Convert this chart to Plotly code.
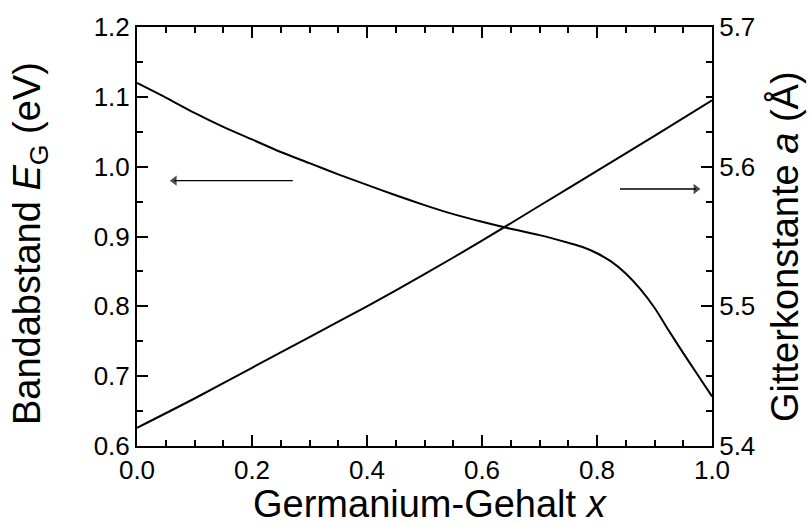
import plotly.graph_objects as go

# Band gap (left axis)
x_eg = [0.0, 0.05, 0.1, 0.15, 0.2, 0.25, 0.3, 0.35, 0.4, 0.45, 0.5, 0.55, 0.6, 0.65, 0.7, 0.75,
        0.775, 0.8, 0.825, 0.85, 0.875, 0.9, 0.925, 0.95, 0.975, 1.0]
eg = [1.120, 1.099, 1.077, 1.057, 1.039, 1.021, 1.005, 0.989, 0.974, 0.959, 0.945, 0.932, 0.921,
      0.911, 0.902, 0.891, 0.885, 0.876, 0.864, 0.847, 0.825, 0.798, 0.765, 0.733, 0.702, 0.671]

# Lattice constant (right axis)
x_a = [0.0, 0.1, 0.2, 0.3, 0.4, 0.5, 0.6, 0.7, 0.8, 0.9, 1.0]
a_const = [5.413, 5.434, 5.456, 5.478, 5.500, 5.523, 5.547, 5.572, 5.597, 5.622, 5.6475]

# Arrows: [tail, head] in data units
arrow_left_x = [0.271, 0.065]
arrow_left_y = [0.98, 0.98]
arrow_right_x = [0.84, 0.972]
arrow_right_y = [5.584, 5.584]

# Axis titles
x_title = "Germanium-Gehalt <i>x</i>"
y_title = "Bandabstand <i>E</i><sub>G</sub> (eV)"
y2_title = "Gitterkonstante <i>a</i> (Å)"

FONT = "Liberation Sans, Arial, sans-serif"

fig = go.Figure()
fig.add_trace(go.Scatter(x=x_eg, y=eg, mode="lines",
                         line=dict(color="black", width=2, shape="spline", smoothing=0.8),
                         showlegend=False))
fig.add_trace(go.Scatter(x=x_a, y=a_const, mode="lines",
                         line=dict(color="black", width=2, shape="spline", smoothing=0.8),
                         yaxis="y2", showlegend=False))
fig.add_trace(go.Scatter(x=arrow_left_x, y=arrow_left_y, mode="lines+markers",
                         line=dict(color="black", width=1.3),
                         marker=dict(symbol=["line-ns", "triangle-left"], size=[1, 9], color="black",
                                     line=dict(width=0)),
                         showlegend=False))
fig.add_trace(go.Scatter(x=arrow_right_x, y=arrow_right_y, mode="lines+markers", yaxis="y2",
                         line=dict(color="black", width=1.3),
                         marker=dict(symbol=["line-ns", "triangle-right"], size=[1, 9], color="black",
                                     line=dict(width=0)),
                         showlegend=False))

tickfont = dict(family=FONT, size=26, color="black")
titlefont = dict(family=FONT, size=38, color="black")

# Axis titles as paper-positioned text
fig.add_annotation(text=x_title, xref="paper", yref="paper", x=0.51, y=-0.139,
                   xanchor="center", yanchor="middle", showarrow=False, font=titlefont)
fig.add_annotation(text=y_title, xref="paper", yref="paper", x=-0.186, y=0.482, textangle=-90,
                   xanchor="center", yanchor="middle", showarrow=False, font=titlefont)
fig.add_annotation(text=y2_title, xref="paper", yref="paper", x=1.127, y=0.475, textangle=-90,
                   xanchor="center", yanchor="middle", showarrow=False, font=titlefont)


def minor(dt):
    return dict(dtick=dt, ticks="inside", ticklen=6, tickwidth=2, tickcolor="black")


common = dict(ticks="inside", ticklen=11, tickwidth=2, tickcolor="black", tickformat=".1f",
              showline=True, linewidth=2, linecolor="black", zeroline=False, gridcolor="white",
              tickfont=tickfont)

fig.update_layout(
    width=810, height=525,
    margin=dict(l=137, r=98, t=23, b=79),
    plot_bgcolor="white",
    xaxis=dict(range=[0, 1], nticks=6, mirror="ticks", minor=minor(0.05), **common),
    yaxis=dict(range=[0.6, 1.2], nticks=7, minor=minor(0.05), **common),
    yaxis2=dict(range=[5.4, 5.7], nticks=4, overlaying="y", side="right", minor=minor(0.025), **common),
)

fig.write_html("out.html")
